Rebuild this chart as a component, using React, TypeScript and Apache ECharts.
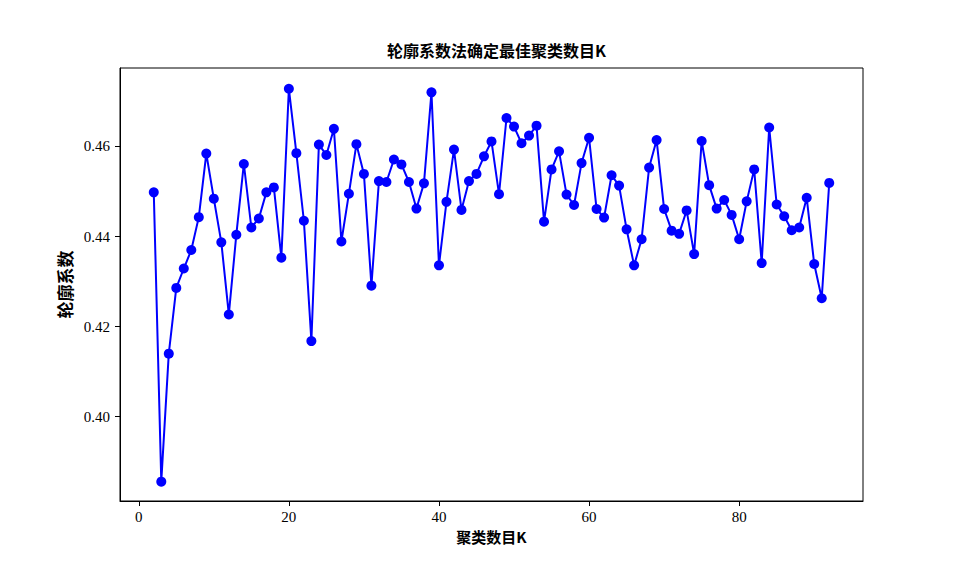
import React, { useEffect, useRef } from "react";
import * as echarts from "echarts";

const kValues: number[] = Array.from({ length: 91 }, (_, i) => i + 2);

const silhouette: number[] = [
  0.4498, 0.3856, 0.4140, 0.4286, 0.4329, 0.4370, 0.4443, 0.4584, 0.4484, 0.4387,
  0.4227, 0.4404, 0.4561, 0.4420, 0.4440, 0.4498, 0.4509, 0.4353, 0.4728, 0.4585,
  0.4435, 0.4168, 0.4604, 0.4581, 0.4639, 0.4389, 0.4495, 0.4605, 0.4539, 0.4291,
  0.4523, 0.4521, 0.4571, 0.4560, 0.4521, 0.4462, 0.4518, 0.4720, 0.4336, 0.4477,
  0.4593, 0.4459, 0.4523, 0.4539, 0.4578, 0.4611, 0.4494, 0.4663, 0.4644, 0.4607,
  0.4624, 0.4646, 0.4433, 0.4549, 0.4589, 0.4493, 0.4470, 0.4563, 0.4619, 0.4461,
  0.4442, 0.4536, 0.4513, 0.4416, 0.4336, 0.4394, 0.4553, 0.4614, 0.4461, 0.4413,
  0.4406, 0.4458, 0.4361, 0.4612, 0.4514, 0.4462, 0.4481, 0.4448, 0.4394, 0.4478,
  0.4549, 0.4341, 0.4642, 0.4471, 0.4445, 0.4414, 0.4420, 0.4486, 0.4339, 0.4263,
  0.4519,
];

const xTicks: number[] = [0, 20, 40, 60, 80];
const yTicks: number[] = [0.4, 0.42, 0.44, 0.46];

const titleText = "轮廓系数法确定最佳聚类数目K";
const xName = "聚类数目K";
const yName = "轮廓系数";

export default function App() {
  const ref = useRef<HTMLDivElement>(null);
  useEffect(() => {
    if (!ref.current) return;
    const chart = echarts.init(ref.current, undefined, { renderer: "svg" });
    const cjk = "'Noto Sans CJK SC', sans-serif";
    const serif = "'Liberation Serif', 'DejaVu Serif', serif";
    chart.setOption({
      animation: false,
      backgroundColor: "#ffffff",
      title: {
        text: titleText,
        left: 491.5,
        textAlign: "center",
        top: 37,
        textStyle: { fontFamily: cjk, fontWeight: "bold", fontSize: 16, color: "#000" },
      },
      grid: {
        left: 120,
        right: 97,
        top: 68,
        bottom: 63,
        show: true,
        borderColor: "#000",
        borderWidth: 1,
        backgroundColor: "#fff",
      },
      xAxis: {
        type: "value",
        min: -2.5,
        max: 96.5,
        name: xName,
        nameLocation: "middle",
        nameGap: 26,
        nameTextStyle: { fontFamily: cjk, fontWeight: "bold", fontSize: 15, color: "#000" },
        axisLine: { show: true, onZero: false, lineStyle: { color: "#000", width: 1 } },
        axisTick: { show: true, inside: false, length: 5, customValues: xTicks, lineStyle: { color: "#000" } },
        axisLabel: {
          customValues: xTicks,
          margin: 8,
          fontFamily: serif,
          fontSize: 15,
          color: "#000",
          formatter: (v: number) => String(v),
        },
        splitLine: { show: false },
      },
      yAxis: {
        type: "value",
        min: 0.3813,
        max: 0.4774,
        name: yName,
        nameLocation: "middle",
        nameRotate: 90,
        nameGap: 42,
        nameTextStyle: { fontFamily: cjk, fontWeight: "bold", fontSize: 17, color: "#000" },
        axisLine: { show: true, onZero: false, lineStyle: { color: "#000", width: 1 } },
        axisTick: { show: true, inside: false, length: 5, customValues: yTicks, lineStyle: { color: "#000" } },
        axisLabel: {
          customValues: yTicks,
          margin: 10,
          fontFamily: serif,
          fontSize: 15,
          color: "#000",
          formatter: (v: number) => v.toFixed(2),
        },
        splitLine: { show: false },
      },
      series: [
        {
          type: "line",
          data: kValues.map((k, i) => [k, silhouette[i]]),
          symbol: "circle",
          symbolSize: 10,
          showSymbol: true,
          lineStyle: { color: "#0000ff", width: 2 },
          itemStyle: { color: "#0000ff" },
          emphasis: { disabled: true },
        },
      ],
    });
    return () => chart.dispose();
  }, []);
  return (
    <div
      ref={ref}
      style={{ position: "absolute", left: 0, top: 0, width: 960, height: 564, background: "#fff" }}
    />
  );
}
